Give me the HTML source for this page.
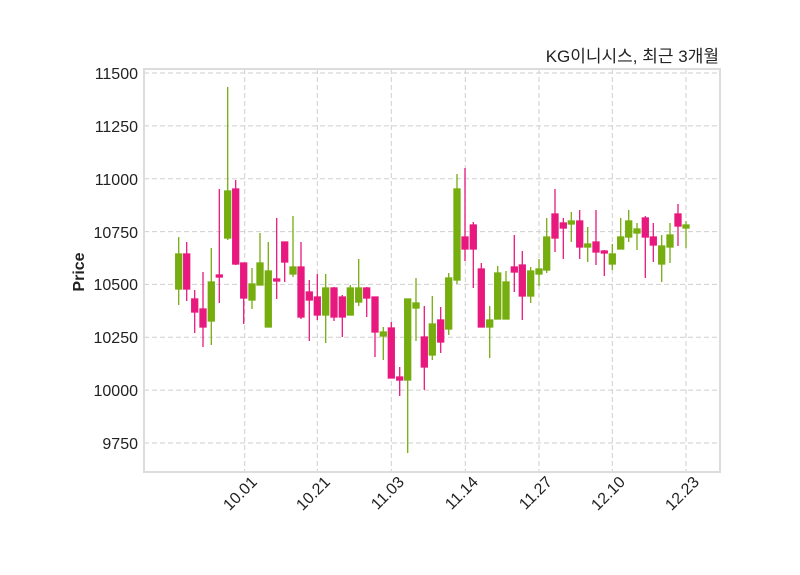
<!DOCTYPE html>
<html><head><meta charset="utf-8"><style>body{margin:0;background:#fff}svg{display:block}</style></head><body>
<svg width="800" height="575" xmlns="http://www.w3.org/2000/svg" font-family="Liberation Sans, Noto Sans CJK KR, sans-serif">
<rect width="800" height="575" fill="#fff"/>
<g stroke="#cfcfcf" stroke-dasharray="5,3" stroke-width="1">
<line x1="144" x2="720" y1="73" y2="73"/><line x1="144" x2="720" y1="125.9" y2="125.9"/><line x1="144" x2="720" y1="178.7" y2="178.7"/><line x1="144" x2="720" y1="231.6" y2="231.6"/><line x1="144" x2="720" y1="284.4" y2="284.4"/><line x1="144" x2="720" y1="337.3" y2="337.3"/><line x1="144" x2="720" y1="390.1" y2="390.1"/><line x1="144" x2="720" y1="443" y2="443"/>
<line y1="69" y2="472" x1="244.7" x2="244.7"/><line y1="69" y2="472" x1="317.3" x2="317.3"/><line y1="69" y2="472" x1="391.3" x2="391.3"/><line y1="69" y2="472" x1="465.3" x2="465.3"/><line y1="69" y2="472" x1="539" x2="539"/><line y1="69" y2="472" x1="612.3" x2="612.3"/><line y1="69" y2="472" x1="686" x2="686"/>
</g>
<rect x="144" y="69" width="576" height="403" fill="none" stroke="#dcdcdc" stroke-width="2"/>
<g font-size="16" fill="#222" text-anchor="end">
<text x="138" y="79">11500</text><text x="138" y="132">11250</text><text x="138" y="185">11000</text><text x="138" y="238">10750</text><text x="138" y="290">10500</text><text x="138" y="343">10250</text><text x="138" y="396">10000</text><text x="138" y="449">9750</text>
<text transform="translate(258,483) rotate(-45)">10.01</text><text transform="translate(331,483) rotate(-45)">10.21</text><text transform="translate(405,483) rotate(-45)">11.03</text><text transform="translate(479,483) rotate(-45)">11.14</text><text transform="translate(553,483) rotate(-45)">11.27</text><text transform="translate(626,483) rotate(-45)">12.10</text><text transform="translate(700,483) rotate(-45)">12.23</text>
</g>
<text transform="translate(84,272) rotate(-90)" text-anchor="middle" font-size="16" font-weight="bold" fill="#222">Price</text>
<text x="719" y="62" text-anchor="end" font-size="17" fill="#222">KG이니시스, 최근 3개월</text>
<g stroke-width="1.3">
<g stroke="#76ad0f" fill="#76ad0f">
<line x1="178.7" x2="178.7" y1="237" y2="305"/><rect x="175.7" y="254" width="6" height="35"/>
<line x1="211.3" x2="211.3" y1="248" y2="345"/><rect x="208.3" y="282" width="6" height="39"/>
<line x1="227.7" x2="227.7" y1="87" y2="240"/><rect x="224.7" y="191" width="6" height="47"/>
<line x1="252" x2="252" y1="268" y2="309"/><rect x="249" y="284" width="6" height="16"/>
<line x1="260" x2="260" y1="233" y2="285"/><rect x="257" y="263" width="6" height="22"/>
<line x1="268.3" x2="268.3" y1="242" y2="327"/><rect x="265.3" y="271" width="6" height="56"/>
<line x1="293" x2="293" y1="216" y2="277"/><rect x="290" y="267" width="6" height="7"/>
<line x1="325.7" x2="325.7" y1="274" y2="343"/><rect x="322.7" y="288" width="6" height="27"/>
<line x1="350.3" x2="350.3" y1="285" y2="315"/><rect x="347.3" y="288" width="6" height="27"/>
<line x1="358.7" x2="358.7" y1="259" y2="306"/><rect x="355.7" y="288" width="6" height="14"/>
<line x1="383.3" x2="383.3" y1="327" y2="360"/><rect x="380.3" y="332" width="6" height="4"/>
<line x1="407.7" x2="407.7" y1="299" y2="453"/><rect x="404.7" y="299" width="6" height="81"/>
<line x1="416" x2="416" y1="278" y2="341"/><rect x="413" y="303" width="6" height="5"/>
<line x1="432.3" x2="432.3" y1="296" y2="360"/><rect x="429.3" y="324" width="6" height="31"/>
<line x1="448.7" x2="448.7" y1="273" y2="335"/><rect x="445.7" y="278" width="6" height="51"/>
<line x1="457" x2="457" y1="174" y2="284"/><rect x="454" y="189" width="6" height="91"/>
<line x1="489.7" x2="489.7" y1="306" y2="358"/><rect x="486.7" y="320" width="6" height="7"/>
<line x1="497.7" x2="497.7" y1="266" y2="319"/><rect x="494.7" y="273" width="6" height="46"/>
<line x1="506" x2="506" y1="271" y2="319"/><rect x="503" y="282" width="6" height="37"/>
<line x1="530.7" x2="530.7" y1="267" y2="303"/><rect x="527.7" y="271" width="6" height="25"/>
<line x1="539" x2="539" y1="259" y2="286"/><rect x="536" y="269" width="6" height="5"/>
<line x1="546.7" x2="546.7" y1="218" y2="273"/><rect x="543.7" y="237" width="6" height="33"/>
<line x1="571.3" x2="571.3" y1="212" y2="242"/><rect x="568.3" y="221" width="6" height="3"/>
<line x1="587.7" x2="587.7" y1="227" y2="262"/><rect x="584.7" y="244" width="6" height="3"/>
<line x1="612.3" x2="612.3" y1="244" y2="270"/><rect x="609.3" y="254" width="6" height="10"/>
<line x1="620.7" x2="620.7" y1="218" y2="249"/><rect x="617.7" y="237" width="6" height="12"/>
<line x1="628.7" x2="628.7" y1="210" y2="242"/><rect x="625.7" y="221" width="6" height="16"/>
<line x1="637" x2="637" y1="223" y2="250"/><rect x="634" y="229" width="6" height="4"/>
<line x1="661.7" x2="661.7" y1="235" y2="282"/><rect x="658.7" y="246" width="6" height="18"/>
<line x1="670" x2="670" y1="223" y2="263"/><rect x="667" y="235" width="6" height="12"/>
<line x1="686" x2="686" y1="221" y2="248"/><rect x="683" y="225" width="6" height="3"/>
</g>
<g stroke="#e8197e" fill="#e8197e">
<line x1="186.7" x2="186.7" y1="242" y2="301"/><rect x="183.7" y="254" width="6" height="35"/>
<line x1="194.7" x2="194.7" y1="290" y2="333"/><rect x="191.7" y="299" width="6" height="13"/>
<line x1="203" x2="203" y1="272" y2="347"/><rect x="200" y="309" width="6" height="18"/>
<line x1="219.3" x2="219.3" y1="189" y2="303"/><rect x="216.3" y="275" width="6" height="2"/>
<line x1="235.7" x2="235.7" y1="180" y2="265"/><rect x="232.7" y="189" width="6" height="75"/>
<line x1="243.7" x2="243.7" y1="263" y2="324"/><rect x="240.7" y="263" width="6" height="35"/>
<line x1="276.7" x2="276.7" y1="218" y2="299"/><rect x="273.7" y="279" width="6" height="2"/>
<line x1="284.7" x2="284.7" y1="242" y2="282"/><rect x="281.7" y="242" width="6" height="20"/>
<line x1="301" x2="301" y1="242" y2="319"/><rect x="298" y="267" width="6" height="50"/>
<line x1="309.3" x2="309.3" y1="280" y2="341"/><rect x="306.3" y="292" width="6" height="8"/>
<line x1="317.3" x2="317.3" y1="274" y2="320"/><rect x="314.3" y="297" width="6" height="18"/>
<line x1="334" x2="334" y1="287" y2="321"/><rect x="331" y="288" width="6" height="29"/>
<line x1="342.3" x2="342.3" y1="295" y2="337"/><rect x="339.3" y="297" width="6" height="20"/>
<line x1="366.7" x2="366.7" y1="287" y2="317"/><rect x="363.7" y="288" width="6" height="10"/>
<line x1="375" x2="375" y1="297" y2="357"/><rect x="372" y="297" width="6" height="35"/>
<line x1="391.3" x2="391.3" y1="322" y2="378"/><rect x="388.3" y="328" width="6" height="50"/>
<line x1="399.7" x2="399.7" y1="367" y2="396"/><rect x="396.7" y="377" width="6" height="3"/>
<line x1="424.3" x2="424.3" y1="306" y2="390"/><rect x="421.3" y="337" width="6" height="30"/>
<line x1="440.7" x2="440.7" y1="307" y2="353"/><rect x="437.7" y="320" width="6" height="22"/>
<line x1="465" x2="465" y1="168" y2="261"/><rect x="462" y="237" width="6" height="12"/>
<line x1="473.3" x2="473.3" y1="222" y2="288"/><rect x="470.3" y="225" width="6" height="24"/>
<line x1="481.3" x2="481.3" y1="263" y2="327"/><rect x="478.3" y="269" width="6" height="58"/>
<line x1="514.3" x2="514.3" y1="235" y2="292"/><rect x="511.3" y="267" width="6" height="5"/>
<line x1="522.3" x2="522.3" y1="251" y2="320"/><rect x="519.3" y="265" width="6" height="31"/>
<line x1="555" x2="555" y1="189" y2="252"/><rect x="552" y="214" width="6" height="24"/>
<line x1="563.3" x2="563.3" y1="218" y2="259"/><rect x="560.3" y="223" width="6" height="5"/>
<line x1="579.7" x2="579.7" y1="210" y2="259"/><rect x="576.7" y="221" width="6" height="26"/>
<line x1="596" x2="596" y1="210" y2="265"/><rect x="593" y="242" width="6" height="10"/>
<line x1="604.3" x2="604.3" y1="250" y2="276"/><rect x="601.3" y="251" width="6" height="2"/>
<line x1="645.3" x2="645.3" y1="216" y2="278"/><rect x="642.3" y="218" width="6" height="19"/>
<line x1="653.3" x2="653.3" y1="223" y2="262"/><rect x="650.3" y="237" width="6" height="8"/>
<line x1="678" x2="678" y1="204" y2="246"/><rect x="675" y="214" width="6" height="12"/>
</g>
</g>
</svg>
</body></html>
